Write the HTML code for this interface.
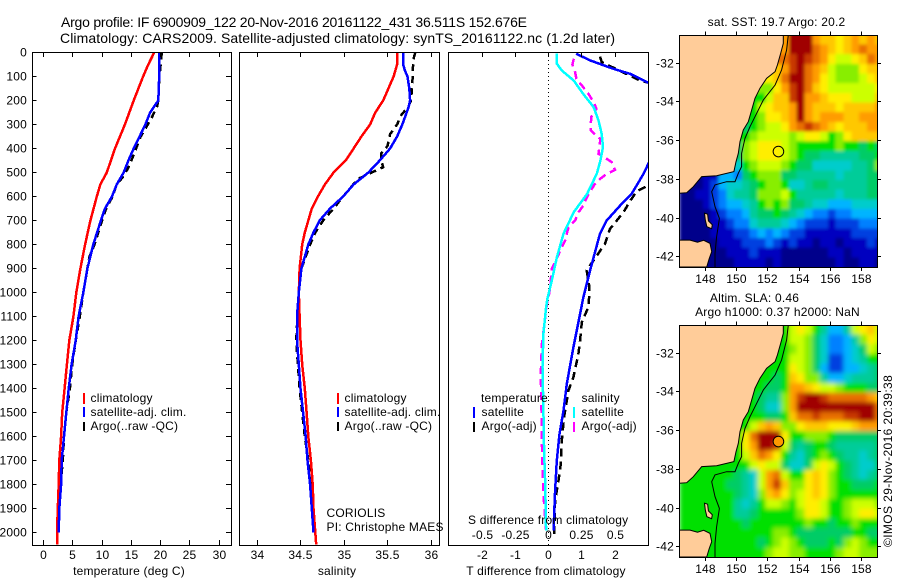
<!DOCTYPE html>
<html lang="en">
<head>
<meta charset="utf-8">
<title>Argo profile IF 6900909_122</title>
<style>
html,body{margin:0;padding:0;background:#fff;width:900px;height:580px;overflow:hidden}
svg{display:block}
text{font-family:"Liberation Sans",sans-serif;font-size:12px;fill:#000;letter-spacing:.2px}
.t{font-size:14px;letter-spacing:0}
</style>
</head>
<body>
<svg id="fig" xmlns="http://www.w3.org/2000/svg" width="900" height="580" viewBox="0 0 900 580">
<defs>
<clipPath id="cp1"><rect x="32.5" y="52.5" width="199" height="493"/></clipPath>
<clipPath id="cp2"><rect x="239.5" y="52.5" width="200" height="493"/></clipPath>
<clipPath id="cp3"><rect x="448.5" y="52.5" width="200" height="493"/></clipPath>
<clipPath id="cpm1"><rect x="679.5" y="35" width="198" height="232"/></clipPath>
<clipPath id="cpm2"><rect x="679.5" y="325" width="198" height="232"/></clipPath>
<filter id="blurSst" filterUnits="userSpaceOnUse" x="640" y="0" width="260" height="300"><feGaussianBlur stdDeviation="1.5"/></filter>
<filter id="blurSla" filterUnits="userSpaceOnUse" x="640" y="290" width="260" height="290"><feGaussianBlur stdDeviation="2.5"/></filter>
</defs>
<text class="t" x="61" y="27" textLength="466">Argo profile: IF 6900909_122 20-Nov-2016 20161122_431 36.511S 152.676E</text>
<text class="t" x="60" y="43" textLength="555">Climatology: CARS2009. Satellite-adjusted climatology: synTS_20161122.nc (1.2d later)</text>

<g id="p1" clip-path="url(#cp1)"></g>
<g id="p2" clip-path="url(#cp2)"></g>
<g id="p3" clip-path="url(#cp3)"></g>
<g id="axes"></g>

<rect x="32.5" y="52.5" width="199" height="493" fill="none" stroke="#000"/>
<rect x="239.5" y="52.5" width="200" height="493" fill="none" stroke="#000"/>
<rect x="448.5" y="52.5" width="200" height="493" fill="none" stroke="#000"/>

<text x="129" y="575" text-anchor="middle">temperature (deg C)</text>
<text x="337" y="575" text-anchor="middle">salinity</text>
<text x="546" y="575" text-anchor="middle">T difference from climatology</text>
<text x="468" y="524">S difference from climatology</text>

<g>
<rect x="83" y="393" width="2" height="11" fill="#f00"/>
<rect x="83" y="407" width="2" height="10" fill="#00f"/>
<rect x="83" y="422" width="2" height="9" fill="#000"/>
<text x="90.5" y="402">climatology</text>
<text x="90.5" y="416">satellite-adj. clim.</text>
<text x="90.5" y="430">Argo(..raw -QC)</text>
</g>
<g>
<rect x="337" y="393" width="2" height="11" fill="#f00"/>
<rect x="337" y="407" width="2" height="10" fill="#00f"/>
<rect x="337" y="422" width="2" height="9" fill="#000"/>
<text x="344.5" y="402">climatology</text>
<text x="344.5" y="416">satellite-adj. clim.</text>
<text x="344.5" y="430">Argo(..raw -QC)</text>
</g>
<g>
<text x="481" y="402">temperature</text>
<rect x="473" y="407" width="2" height="11" fill="#00f"/>
<rect x="473" y="422" width="2" height="10" fill="#000"/>
<text x="481.5" y="416">satellite</text>
<text x="481.5" y="430">Argo(-adj)</text>
<text x="581.5" y="402">salinity</text>
<rect x="573" y="407" width="2" height="11" fill="#0ff"/>
<rect x="573" y="422" width="2" height="10" fill="#f0f"/>
<text x="581.5" y="416">satellite</text>
<text x="581.5" y="430">Argo(-adj)</text>
</g>
<text x="326.5" y="517">CORIOLIS</text>
<text x="326.5" y="531">PI: Christophe MAES</text>

<g id="m1" clip-path="url(#cpm1)"></g>
<g id="m2" clip-path="url(#cpm2)"></g>
<rect x="679.5" y="35.5" width="198" height="232" fill="none" stroke="#000"/>
<rect x="679.5" y="325.5" width="198" height="232" fill="none" stroke="#000"/>
<text x="776.5" y="26" text-anchor="middle">sat. SST: 19.7 Argo: 20.2</text>
<text x="754.5" y="302" text-anchor="middle">Altim. SLA: 0.46</text>
<text x="777.5" y="316" text-anchor="middle">Argo h1000: 0.37 h2000: NaN</text>
<text transform="translate(892 547) rotate(-90)" textLength="172">©IMOS 29-Nov-2016 20:39:38</text>
</svg>

<script>
/* ---------- profile data ---------- */
const climTempDepth = [0,50,100,200,300,400,500,550,600,700,800,900,1000,1100,1200,1300,1400,1500,1600,1700,1800,1900,2000,2050];
const climTempValue = [18.9,17.9,17.0,15.4,13.9,12.2,10.8,9.7,9.1,8.0,7.1,6.3,5.6,5.1,4.4,4.0,3.6,3.2,3.0,2.7,2.6,2.45,2.3,2.3];
const satTempDepth = [0,100,200,250,300,400,450,500,550,600,650,700,800,900,1000,1100,1200,1300,1400,1500,1600,1700,1800,1900,2000];
const satTempValue = [19.8,19.75,19.6,18.2,17.4,15.4,14.5,13.7,12.5,11.7,10.5,9.8,8.5,7.5,6.8,6.0,5.5,4.8,4.3,3.9,3.5,3.1,3.0,2.7,2.6];
const argoTempDepth = [0,25,100,200,225,280,350,420,480,520,550,600,650,700,800,850,900,1000,1100,1200,1300,1400,1500,1600,1700,1800,1900,2000];
const argoTempValue = [20.2,20.1,19.8,19.6,19.4,18.3,16.6,15.5,14.5,13.5,12.5,11.8,10.7,10.0,8.7,7.85,7.5,6.8,6.2,5.5,4.9,4.5,3.9,3.5,3.3,2.9,2.6,2.6];

const climSalDepth = [0,50,100,150,200,250,300,350,400,450,500,550,600,650,700,750,800,900,1000,1100,1200,1300,1400,1500,1600,1700,1800,1900,2000,2050];
const climSalValue = [35.61,35.61,35.57,35.51,35.45,35.36,35.30,35.20,35.11,35.02,34.88,34.78,34.70,34.63,34.59,34.55,34.52,34.49,34.48,34.49,34.50,34.52,34.55,34.57,34.59,34.62,34.64,34.65,34.67,34.68];
const satSalDepth = [0,50,75,100,150,200,230,300,350,400,450,500,550,600,650,700,750,800,900,1000,1100,1200,1300,1400,1500,1600,1700,1800,1900,2000];
const satSalValue = [35.68,35.68,35.70,35.73,35.75,35.76,35.74,35.67,35.61,35.53,35.41,35.28,35.11,34.99,34.84,34.72,34.65,34.59,34.51,34.48,34.46,34.46,34.48,34.50,34.53,34.56,34.58,34.61,34.63,34.65];
const argoSalDepth = [0,25,75,100,150,200,225,260,300,340,390,420,450,478,500,527,600,650,700,750,800,900,1000,1200,1300,1400,1500,1600,1700,1800,1900,2000];
const argoSalValue = [35.82,35.80,35.79,35.79,35.78,35.77,35.74,35.66,35.61,35.53,35.50,35.43,35.43,35.45,35.32,35.16,34.99,34.88,34.76,34.67,34.61,34.51,34.48,34.45,34.47,34.49,34.52,34.55,34.59,34.62,34.64,34.65];

const satTDiffDepth = [5,33,68,89,126,150,200,300,400,470,505,589,637,700,755,832,908,1019,1124,1228,1381,1492,1589,1700,1825,1992];
const satTDiffValue = [0.83,1.25,1.95,2.46,3.0,3.4,4.2,3.5,3.2,2.98,2.86,2.5,2.16,1.75,1.55,1.4,1.25,1.05,0.9,0.75,0.55,0.45,0.33,0.25,0.2,0.15];
const argoTDiffDepth = [17,40,117,126,200,300,400,561,578,617,665,735,797,867,908,978,1019,1061,1124,1200,1256,1353,1408,1519,1616,1714,1783,1867,2006];
const argoTDiffValue = [1.55,1.6,2.76,3.0,4.2,4.5,4.0,2.9,2.66,2.46,2.26,1.85,1.7,1.35,1.15,1.23,1.22,1.2,1.0,0.95,0.9,0.75,0.6,0.47,0.4,0.37,0.3,0.2,0.17];
const satSDiffDepth = [5,47,75,117,172,228,283,339,394,450,505,589,665,755,853,950,1026,1061,1172,1311,1492,1658,1797,1992];
const satSDiffValue = [0.063,0.063,0.1,0.19,0.26,0.34,0.376,0.4,0.41,0.39,0.363,0.29,0.19,0.113,0.063,0.025,-0.008,-0.018,-0.038,-0.045,-0.038,-0.033,-0.025,-0.018];
const argoSDiffDepth = [26,50,82,110,137,172,207,235,269,325,342,360,394,422,439,457,489,505,526,547,582,617,637,665,700,728,783,811,874,901,978,1019,1047,1214,1339,1492,1672,1839,1992];
const argoSDiffValue = [0.19,0.18,0.2,0.21,0.25,0.3,0.34,0.36,0.32,0.318,0.35,0.39,0.383,0.376,0.426,0.476,0.5,0.44,0.39,0.35,0.31,0.276,0.263,0.226,0.2,0.15,0.125,0.1,0.05,0.025,0.0125,0,-0.012,-0.05,-0.058,-0.053,-0.048,-0.038,-0.018];

/* ---------- tick labels ---------- */
const depthTicks = [0,100,200,300,400,500,600,700,800,900,1000,1100,1200,1300,1400,1500,1600,1700,1800,1900,2000];
const tempTicks = [0,5,10,15,20,25,30];
const salTicks = [34,34.5,35,35.5,36];
const tDiffTicks = [-2,-1,0,1,2];
const sDiffTicks = [-0.5,-0.25,0,0.25,0.5];
const lonTicks = [148,150,152,154,156,158];
const latTicks = [-32,-34,-36,-38,-40,-42];

/* ---------- map data: one letter per 0.5 degree cell, '.' = under land ---------- */
const paletteKeys = ["a","b","c","d","e","f","g","h","i","j","k","l","m","n","o","p","q"];
const paletteColours = ["#00008b","#0000c0","#0040e0","#0080ff","#00b4ff","#00cccc","#00cc99","#00cc66","#00e000","#88ee00","#ccff00","#ffee00","#ffc800","#ff9c00","#e87000","#c83800","#a00000"];
const sstRows = [
"............nnqqqnmmlmnmnm",
"............nnqqqonmlmnonn",
"............oopqponlkklmon",
"...........mmnpqonmkjjjlmm",
"..........llmoqqonlkjjjklm",
"..........jjlnpqomlkkkkkkl",
".........iikmmpqnnmlllkkkm",
"........iiklmmnqnmmmlmmmmn",
"........iijllmnqnmnnnmmnnn",
".......hhijkklnoponmlmmmnn",
".......iijkkkkjkllkijlmmmm",
"......hhjklllkjiiiiijiihih",
"......hhjklllkjihhggggghhi",
"......ffijkkkjihhfffffgghj",
"aaabbeedhijjjhhgggggfggghh",
"aaabceffghijjiffghhggggghh",
"aabbcdfgghjjjkigggggfggghh",
"aaabcdeefgijijhhgffeeeffff",
"aaaabcddeghhihgfeddcddeeee",
"aaaabbcddfgggfedcccbcccddd",
"aaaabbbccdededccbbbbbbcccc",
"aaaaabbbcccdcbcbbabbabbbcb",
"aaaaaabbbcbbbaaaaaabbabbbb",
"aaaaaaabbbbabaaaaaaabaabba"
];
const slaRows = [
"............iiklkigeegklmk",
"............iikkjhfddegjlk",
"...........iiijkjhfddefhkj",
"...........iiikkjhfccefgii",
"..........iiiilkjhecceefgh",
"..........iihimljjgeefgggh",
".........iihhinnmlkkjiiihh",
"........iihggjnpqqpooooonm",
"........iihffjnqqqqqqqqqqo",
".......iiiihhimoopoooppqqo",
".......iikmnmjjlmmmlllmnnn",
"......iiloqqqliijjjihhhhhh",
"......iilnqqpkhghiihgggggh",
"......iikmonligfhijihggfgh",
".....iiiiklkkhffhklkihgffh",
".iiiiiihgfknokiilmljihgfgh",
"iiiiiihhgfknpmjjlmljiihhhi",
"iiiiiiihgfjmnljklmljiiiiii",
"iiiiiiigfgikkjikllkiijkkkj",
"iiiiiiigghiiiiijllkiijkllk",
"iiiiiiiihiiiiiiijiihiijiii",
"iiiiiiiiiiiijjihhhhhhhiihh",
"iiiiiiiiiihijkjihhhihjkjii",
"iiiiiiiiiiijkkjjiiiijkkjjj"
];
const mainlandLon = [146.34,152.99,152.99,152.82,152.61,152.46,151.92,151.50,151.18,150.90,150.75,150.43,150.22,150.11,149.96,149.83,148.72,147.77,147.23,146.81,146.34];
const mainlandLat = [-30.53,-30.53,-30.97,-31.48,-32.09,-32.43,-32.78,-33.29,-33.81,-34.59,-35.02,-35.45,-36.05,-36.66,-37.09,-37.60,-37.81,-37.86,-38.38,-38.69,-38.72];
const tasmaniaLon = [146.34,147.02,147.5,147.9,148.30,148.41,148.25,148.09,146.34];
const tasmaniaLat = [-41.14,-41.14,-41.25,-41.15,-41.31,-41.74,-42.1,-42.53,-42.53];
const islandLon = [147.95,148.15,148.2,148.45,148.4,148.1,148.0];
const islandLat = [-39.75,-39.8,-40.15,-40.35,-40.55,-40.45,-40.1];
const isobathLon = [153.31,153.20,152.88,152.46,151.71,151.18,150.86,150.54,150.32,150.32,150.11,149.90,149.36,148.62,148.41,148.62,148.90,148.72,148.62,148.62];
const isobathLat = [-30.53,-31.31,-32.34,-33.12,-33.90,-34.76,-35.28,-35.88,-36.66,-37.34,-37.69,-38.12,-38.12,-38.29,-38.64,-39.41,-40.02,-40.97,-41.83,-42.53];
const floatLon = 152.676;
const floatLat = -36.511;

/* ---------- scales ---------- */
const NS = "http://www.w3.org/2000/svg";
const yDepth = d => 52.5 + 0.24 * d;
const xTemp = v => 43.5 + 5.857 * v;
const xSal = v => 257 + 87 * (v - 34);
const xTDiff = v => 548.5 + 33.25 * v;
const xSDiff = v => 548.5 + 133 * v;
const xLon = v => 705.3 + 15.64 * (v - 148);
const yLat = (v, off) => 63.3 + off - 19.34 * (v + 32);

function mk(tag, parent, attrs) {
  const el = document.createElementNS(NS, tag);
  for (const k in attrs) el.setAttribute(k, attrs[k]);
  parent.appendChild(el);
  return el;
}
const axes = document.getElementById("axes");

function curve(parent, depths, values, xf, colour, width, dash) {
  const pts = depths.map((d, i) => xf(values[i]).toFixed(1) + "," + yDepth(d).toFixed(1)).join(" ");
  const attrs = {points: pts, fill: "none", stroke: colour, "stroke-width": width, "shape-rendering": "crispEdges"};
  if (dash) attrs["stroke-dasharray"] = dash;
  return mk("polyline", parent, attrs);
}
function tick(x1, y1, x2, y2) {
  const el = mk("line", axes, {x1: x1, y1: y1, x2: x2, y2: y2, stroke: "#000", "shape-rendering": "crispEdges"});
  
  
}
function label(txt, x, y, anchor) {
  const el = mk("text", axes, {x: x, y: y, "text-anchor": anchor});
  el.textContent = txt;
  
  
}

/* ---------- profile curves ---------- */
const p1 = document.getElementById("p1");
const p2 = document.getElementById("p2");
const p3 = document.getElementById("p3");
const LW = 2.5;

let s;
s = curve(p1, argoTempDepth, argoTempValue, xTemp, "#000", LW, "7 5");


s = curve(p1, climTempDepth, climTempValue, xTemp, "#f00", LW);


s = curve(p1, satTempDepth, satTempValue, xTemp, "#00f", LW);



s = curve(p2, argoSalDepth, argoSalValue, xSal, "#000", LW, "7 5");


s = curve(p2, climSalDepth, climSalValue, xSal, "#f00", LW);


s = curve(p2, satSalDepth, satSalValue, xSal, "#00f", LW);



const zeroLine = mk("line", p3, {x1: xTDiff(0), y1: 52, x2: xTDiff(0), y2: 545, stroke: "#000", "stroke-dasharray": "1 3", "shape-rendering": "crispEdges"});


s = curve(p3, argoTDiffDepth, argoTDiffValue, xTDiff, "#000", LW, "8 5");


s = curve(p3, satTDiffDepth, satTDiffValue, xTDiff, "#00f", LW);


s = curve(p3, argoSDiffDepth, argoSDiffValue, xSDiff, "#f0f", LW, "8 5");


s = curve(p3, satSDiffDepth, satSDiffValue, xSDiff, "#0ff", LW);



/* ---------- profile axes ---------- */
depthTicks.forEach(d => {
  const y = Math.floor(yDepth(d)) + 0.5;
  tick(32, y, 36.5, y);
  tick(226, y, 231.5, y);
  label(String(d), 27, y + 4, "end");
});
tempTicks.forEach(v => {
  const x = Math.floor(xTemp(v)) + 0.5;
  tick(x, 52, x, 57);
  tick(x, 540, x, 545);
  label(String(v), x, 559, "middle");
});
salTicks.forEach(v => {
  const x = Math.floor(xSal(v)) + 0.5;
  tick(x, 52, x, 57);
  tick(x, 540, x, 545);
  label(String(v), x, 559, "middle");
});
tDiffTicks.forEach(v => {
  const x = Math.floor(xTDiff(v)) + 0.5;
  tick(x, 52, x, 57);
  label(String(v), x, 559, "middle");
});
sDiffTicks.forEach(v => {
  const x = Math.floor(xSDiff(v)) + 0.5;
  label(String(v), x, 539, "middle");
});

/* ---------- maps ---------- */
function drawMap(group, rows, off, markerFill, filterId) {
  const field = mk("g", group, {filter: "url(#" + filterId + ")"});
  
  
  rows.forEach((row, r) => {
    const firstWater = row.replace(/\./g, "")[0];
    for (let c = 0; c < row.length; c++) {
      const key = row[c] === "." ? firstWater : row[c];
      const lon0 = 146.34 + 0.5 * c;
      const lat0 = -30.53 - 0.5 * r;
      const x0 = xLon(lon0);
      const y0 = yLat(lat0, off);
      const grow = (r === 0 || r === rows.length - 1) ? 8 : 0;
      const wide = c === row.length - 1 ? 8 : 0;
      const cell = mk("rect", field, {
        x: x0.toFixed(2),
        y: (r === 0 ? y0 - grow : y0).toFixed(2),
        width: (xLon(lon0 + 0.5) - x0 + 0.4 + wide).toFixed(2),
        height: (yLat(lat0 - 0.5, off) - y0 + 0.4 + grow).toFixed(2),
        fill: paletteColours[paletteKeys.indexOf(key)],
        "shape-rendering": "crispEdges"
      });
      
      
    }
  });
  const poly = (lons, lats) => lons.map((v, i) => xLon(v).toFixed(1) + "," + yLat(lats[i], off).toFixed(1)).join(" ");
  const land = mk("polygon", group, {points: poly(mainlandLon, mainlandLat), fill: "#ffcc99", stroke: "#000", "stroke-width": 1});
  
  
  const tas = mk("polygon", group, {points: poly(tasmaniaLon, tasmaniaLat), fill: "#ffcc99", stroke: "#000", "stroke-width": 1});
  
  
  const isl = mk("polygon", group, {points: poly(islandLon, islandLat), fill: "#ffcc99", stroke: "#000", "stroke-width": 1});
  
  
  const iso = mk("polyline", group, {points: poly(isobathLon, isobathLat), fill: "none", stroke: "#000", "stroke-width": 1});
  
  
  const mark = mk("circle", group, {cx: xLon(floatLon), cy: yLat(floatLat, off) + 1, r: 5.3, fill: markerFill, stroke: "#000", "stroke-width": 1});
  
  

  const top = yLat(-30.53, off);
  const bottom = yLat(-42.53, off);
  lonTicks.forEach(v => {
    const x = Math.floor(xLon(v)) + 0.5;
    tick(x, top - 3.5, x, top);
    tick(x, bottom, x, bottom + 4);
    label(String(v), x, bottom + 16, "middle");
  });
  latTicks.forEach(v => {
    const y = Math.floor(yLat(v, off)) + 0.5;
    tick(676, y, 679.5, y);
    tick(877.5, y, 881, y);
    label(String(v), 674, y + 4, "end");
  });
}
drawMap(document.getElementById("m1"), sstRows, 0, "none", "blurSst");
drawMap(document.getElementById("m2"), slaRows, 290, "#ff9900", "blurSla");
</script>
</body>
</html>
